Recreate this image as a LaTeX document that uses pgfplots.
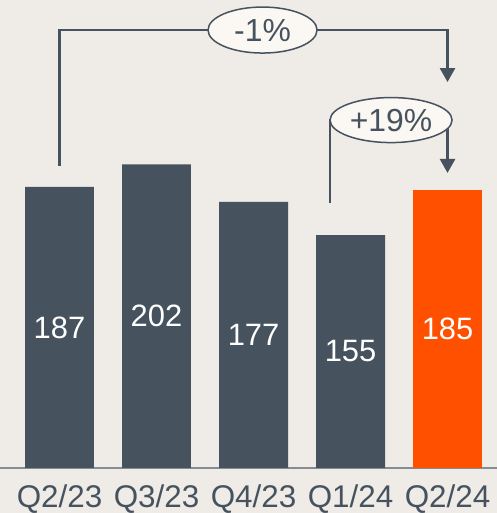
\documentclass[border=0pt]{standalone}
\usepackage{pgfplots}
\pgfplotsset{compat=1.18}
\usepackage{fontspec}
\setmainfont{Liberation Sans}
\usetikzlibrary{arrows.meta,shapes.geometric}
\definecolor{bg}{HTML}{EFEBE7}
\definecolor{slate}{HTML}{46535F}
\definecolor{orng}{HTML}{FF5000}
\definecolor{ebg}{HTML}{FBF7F3}
\definecolor{axgray}{HTML}{848C94}
\begin{document}
\begin{tikzpicture}
\fill[bg] (0,0) rectangle (497bp,513bp);
\begin{axis}[at={(0bp,45bp)}, anchor=south west, scale only axis,
  width=497bp, height=468bp,
  xmin=-0.6134, xmax=4.510, ymin=0, ymax=311.4, clip=false,
  axis x line=bottom, axis y line=none,
  x axis line style={draw=axgray, line width=1.5bp, -},
  xtick={0,1,2,3,4}, xticklabels={Q2/23,Q3/23,Q4/23,Q1/24,Q2/24},
  major tick length=0pt, ytick=\empty,
  xticklabel style={font=\fontsize{31.5}{36}\selectfont, text=slate, yshift=-13bp},
  ybar, bar width=0.711, bar shift=0pt,
  /pgf/number format/assume math mode=true]
\addplot[fill=slate, draw=none] coordinates {(0,187) (1,202) (2,177) (3,155)};
\addplot[fill=orng, draw=none] coordinates {(4,185)};
\addplot[draw=none, fill=none, mark=none, nodes near coords, point meta=explicit symbolic,
  nodes near coords style={anchor=center, text=white, font=\fontsize{31}{36}\selectfont}]
  coordinates {(0,93.5) [187] (1,101) [202] (2,88.5) [177] (3,77.5) [155] (4,92.5) [185]};
\draw[slate, line width=2.5bp, -{Triangle[width=15bp,length=14bp]}]
  (axis cs:0,201) |- (axis cs:4,291.4) -- (axis cs:4,256.8);
\node[ellipse, draw=slate, line width=1.5bp, fill=ebg, minimum width=109bp, minimum height=46bp,
  inner sep=0pt, text=slate, font=\fontsize{32}{36}\selectfont] at (axis cs:2.093,291.4) {-1\%};
\draw[slate, line width=2.5bp, -{Triangle[width=15bp,length=14bp]}]
  (axis cs:2.789,176.3) |- (axis cs:4,231.5) -- (axis cs:4,196.3);
\node[ellipse, draw=slate, line width=1.5bp, fill=ebg, minimum width=122bp, minimum height=45bp,
  inner sep=0pt, text=slate, font=\fontsize{32}{36}\selectfont] at (axis cs:3.418,231.5) {+19\%};
\end{axis}
\pgfresetboundingbox
\path[use as bounding box] (0,0) rectangle (497bp,513bp);
\end{tikzpicture}
\end{document}
